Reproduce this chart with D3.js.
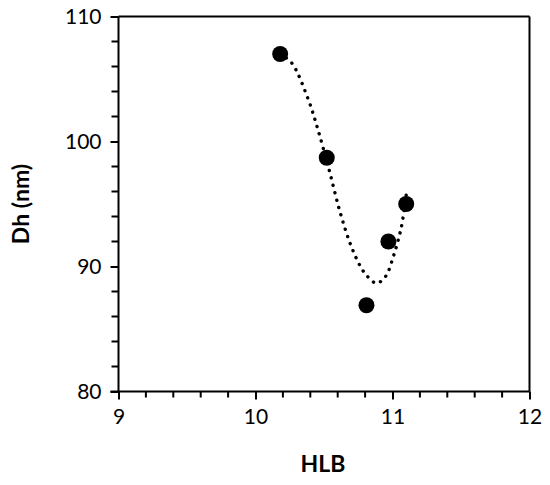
<!DOCTYPE html>
<html>
<head>
<meta charset="utf-8">
<script src="https://cdn.jsdelivr.net/npm/d3@7"></script>
<style>
  html, body { margin: 0; padding: 0; background: #fff; }
  svg { display: block; }
  text { font-family: Lato, "Open Sans", sans-serif; fill: #000; }
</style>
</head>
<body>
<svg id="chart" width="550" height="485"></svg>
<script>
// Data points (HLB vs hydrodynamic diameter)
const hlb = [10.18, 10.52, 10.81, 10.97, 11.10];
const dh  = [107.0, 98.7, 86.9, 92.0, 95.0];

// Dotted trendline
const trendX = [10.178, 10.263, 10.384, 10.457, 10.538, 10.616, 10.689, 10.761, 10.810, 10.883, 10.949, 11.012, 11.048, 11.066, 11.100];
const trendY = [107.0, 106.3, 103.4, 100.9, 97.7, 94.4, 91.9, 90.1, 89.3, 88.66, 89.2, 91.0, 92.4, 93.2, 95.7];

const xTicks = [9, 10, 11, 12];
const yTicks = [80, 90, 100, 110];
const xTitle = "HLB";
const yTitle = "Dh (nm)";

const svg = d3.select("#chart");
const pL = 118.5, pR = 529.5, pT = 16.5, pB = 391.5;

const x = d3.scaleLinear().domain([9, 12]).range([pL, pR]);
const y = d3.scaleLinear().domain([80, 110]).range([pB, pT]);

// minor ticks
const xMinor = d3.range(9, 12.0001, 0.2).map(v => +v.toFixed(1)).filter(v => !xTicks.includes(v));
const yMinor = d3.range(80, 110.0001, 2).filter(v => !yTicks.includes(v));

const g = svg.append("g");

// Frame (top and right)
g.append("line").attr("x1", pL).attr("x2", pR).attr("y1", pT).attr("y2", pT)
  .attr("stroke", "#000").attr("stroke-width", 2);
g.append("line").attr("x1", pR).attr("x2", pR).attr("y1", pT).attr("y2", pB)
  .attr("stroke", "#000").attr("stroke-width", 2);

// Minor ticks
g.selectAll(".xm").data(xMinor).join("line")
  .attr("x1", d => x(d)).attr("x2", d => x(d))
  .attr("y1", pB).attr("y2", pB + 6)
  .attr("stroke", "#000").attr("stroke-width", 2);
g.selectAll(".ym").data(yMinor).join("line")
  .attr("y1", d => y(d)).attr("y2", d => y(d))
  .attr("x1", pL).attr("x2", pL - 7)
  .attr("stroke", "#000").attr("stroke-width", 2);

// Axes
const xAxis = d3.axisBottom(x).tickValues(xTicks).tickSize(8).tickPadding(10).tickFormat(d3.format("d"));
const yAxis = d3.axisLeft(y).tickValues(yTicks).tickSize(8).tickPadding(9).tickFormat(d3.format("d"));

const gx = g.append("g").attr("transform", `translate(0,${pB})`).call(xAxis);
const gy = g.append("g").attr("transform", `translate(${pL},0)`).call(yAxis);
[gx, gy].forEach(a => {
  a.select(".domain").attr("stroke", "#000").attr("stroke-width", 2);
  a.selectAll(".tick line").attr("stroke", "#000").attr("stroke-width", 2);
  a.selectAll(".tick text").attr("font-size", 21).attr("font-family", "Lato, sans-serif").attr("fill", "#000");
});
gx.select(".domain").attr("d", `M${pL - 8},0H${pR}`);
gy.select(".domain").attr("d", `M0,${pT}V${pB}`);

// Trendline
const line = d3.line().x(d => x(d[0])).y(d => y(d[1])).curve(d3.curveCatmullRom.alpha(0.5));
g.append("path")
  .datum(trendX.map((v, i) => [v, trendY[i]]))
  .attr("d", line)
  .attr("fill", "none")
  .attr("stroke", "#000")
  .attr("stroke-width", 3.4)
  .attr("stroke-linecap", "round")
  .attr("stroke-dasharray", "0.1 7.5");

// Points
g.selectAll(".pt").data(hlb.map((v, i) => [v, dh[i]])).join("circle")
  .attr("cx", d => x(d[0])).attr("cy", d => y(d[1])).attr("r", 8)
  .attr("fill", "#000");

// Titles
svg.append("text").attr("x", 323).attr("y", 472)
  .attr("text-anchor", "middle").attr("font-size", 23).attr("font-weight", "bold")
  .text(xTitle);
svg.append("text")
  .attr("transform", "translate(29,204) rotate(-90)")
  .attr("text-anchor", "middle").attr("font-size", 23).attr("font-weight", "bold")
  .text(yTitle);
</script>
</body>
</html>
